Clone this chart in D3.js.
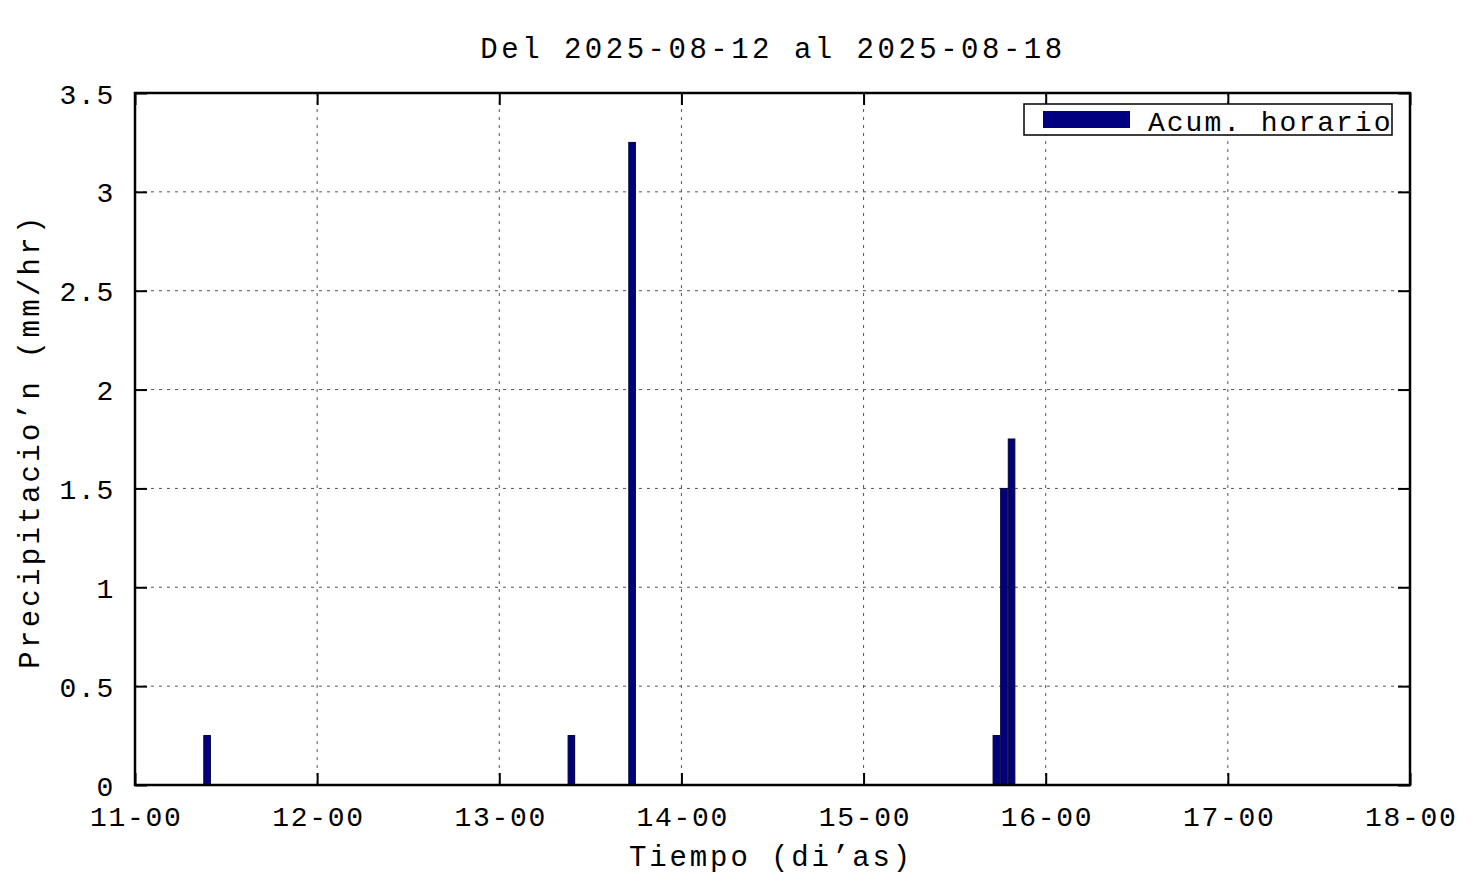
<!DOCTYPE html>
<html>
<head>
<meta charset="utf-8">
<script src="https://cdn.jsdelivr.net/npm/d3@7"></script>
<style>
  body { margin: 0; background: #fff; }
  text { font-family: "Liberation Mono", monospace; fill: #000; }
</style>
</head>
<body>
<svg id="svg" width="1476" height="885"></svg>
<script>
  // data: hourly rain (start of the hour, UTC)
  var hourStarts = ["2025-08-11T09:00", "2025-08-13T09:00", "2025-08-13T17:00",
                    "2025-08-15T17:00", "2025-08-15T18:00", "2025-08-15T19:00"];
  var rainValues = [0.25, 0.25, 3.25, 0.25, 1.5, 1.75];

  var dayTicks = ["2025-08-11", "2025-08-12", "2025-08-13", "2025-08-14",
                  "2025-08-15", "2025-08-16", "2025-08-17", "2025-08-18"];
  var yTicks = [0, 0.5, 1, 1.5, 2, 2.5, 3, 3.5];

  var titleText = "Del 2025-08-12 al 2025-08-18",
      xLabel = "Tiempo (di\u2019as)",
      yLabel = "Precipitacio\u2019n (mm/hr)",
      seriesName = "Acum. horario";

  var svg = d3.select('#svg'),
      plotL = 135, plotT = 93, plotR = 1410, plotB = 785, // borde del area de datos
      tickLen = 12,
      barColor = '#000080';

  var parse = d3.utcParse('%Y-%m-%dT%H:%M'),
      parseDay = d3.utcParse('%Y-%m-%d');

  var days = dayTicks.map(parseDay);
  var bars = hourStarts.map(function (t, i) {
    return { t: parse(t), v: rainValues[i] };
  });

  var x = d3.scaleUtc().domain([days[0], days[days.length - 1]]).range([plotL, plotR]);
  var y = d3.scaleLinear().domain([0, 3.5]).range([plotB, plotT]);

  // grid
  var grid = svg.append('g')
    .attr('stroke', '#555')
    .attr('stroke-width', 1)
    .attr('stroke-dasharray', '3,5');

  grid.selectAll('.gx').data(days.slice(1, -1)).enter().append('line')
    .attr('x1', function (d) { return x(d); })
    .attr('x2', function (d) { return x(d); })
    .attr('y1', plotT).attr('y2', plotB);

  grid.selectAll('.gy').data(yTicks.slice(1, -1)).enter().append('line')
    .attr('y1', function (d) { return y(d); })
    .attr('y2', function (d) { return y(d); })
    .attr('x1', plotL).attr('x2', plotR);

  // bars
  svg.append('g').selectAll('rect').data(bars).enter().append('rect')
    .attr('x', function (d) { return x(d.t) + 0.5; })
    .attr('width', function (d) { return x(d3.utcHour.offset(d.t, 1)) - x(d.t) - 1; })
    .attr('y', function (d) { return y(d.v); })
    .attr('height', function (d) { return y(0) - y(d.v); })
    .attr('fill', barColor)
    .attr('stroke', '#000030')
    .attr('stroke-width', 1);

  // axes, ticks pointing inwards
  var fmtDay = d3.utcFormat('%d-%H');

  var xAxis = svg.append('g')
    .attr('transform', 'translate(0,' + plotB + ')')
    .call(d3.axisBottom(x).tickValues(days).tickSize(-tickLen).tickFormat(fmtDay));
  xAxis.selectAll('text')
    .attr('y', 41).attr('dy', null)
    .attr('font-size', 28)
    .attr('letter-spacing', 1.7)
    .attr('dx', 0.85);

  svg.append('g')
    .attr('transform', 'translate(0,' + plotT + ')')
    .call(d3.axisTop(x).tickValues(days).tickSize(-tickLen).tickFormat(''));

  var yAxis = svg.append('g')
    .attr('transform', 'translate(' + plotL + ',0)')
    .call(d3.axisLeft(y).tickValues(yTicks).tickSize(-tickLen).tickFormat(d3.format('')));
  yAxis.selectAll('text')
    .attr('x', -20).attr('dy', '0.36em')
    .attr('font-size', 28)
    .attr('letter-spacing', 1.7);

  svg.append('g')
    .attr('transform', 'translate(' + plotR + ',0)')
    .call(d3.axisRight(y).tickValues(yTicks).tickSize(-tickLen).tickFormat(''));

  svg.selectAll('.domain').remove();
  svg.selectAll('.tick line').attr('stroke', '#000').attr('stroke-width', 2);
  svg.selectAll('.tick text').attr('font-family', '"Liberation Mono", monospace').attr('fill', '#000');

  // frame
  svg.append('rect')
    .attr('x', plotL).attr('y', plotT)
    .attr('width', plotR - plotL).attr('height', plotB - plotT)
    .attr('fill', 'none')
    .attr('stroke', '#000')
    .attr('stroke-width', 2.5);

  // title and axis labels
  svg.append('text')
    .attr('x', 773).attr('y', 58)
    .attr('text-anchor', 'middle')
    .attr('font-size', 29)
    .attr('letter-spacing', 3.5)
    .text(titleText);

  svg.append('text')
    .attr('x', 771).attr('y', 866)
    .attr('text-anchor', 'middle')
    .attr('font-size', 29)
    .attr('letter-spacing', 2.9)
    .text(xLabel);

  svg.append('text')
    .attr('transform', 'translate(39,441) rotate(-90)')
    .attr('text-anchor', 'middle')
    .attr('font-size', 29)
    .attr('letter-spacing', 3.3)
    .text(yLabel);

  // legend
  var legend = svg.append('g');
  legend.append('rect')
    .attr('x', 1024).attr('y', 104)
    .attr('width', 368).attr('height', 31)
    .attr('fill', '#fff')
    .attr('stroke', '#000')
    .attr('stroke-width', 1.5);
  legend.append('rect')
    .attr('x', 1043).attr('y', 111)
    .attr('width', 87).attr('height', 17)
    .attr('fill', barColor);
  legend.append('text')
    .attr('x', 1148).attr('y', 131)
    .attr('font-size', 28)
    .attr('letter-spacing', 2)
    .text(seriesName);
</script>
</body>
</html>
